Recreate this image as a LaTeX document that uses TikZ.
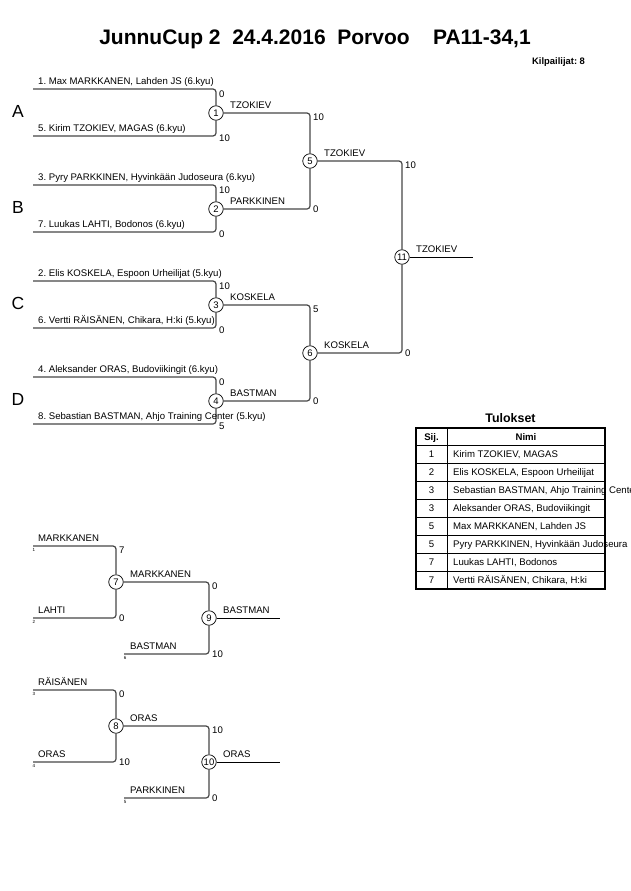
\documentclass[tikz,border=0pt]{standalone}
\usepackage{fontspec}
\setmainfont{Liberation Sans}
\frenchspacing
\begin{document}
\begin{tikzpicture}[x=1pt,y=-1pt,
 br/.style={draw=black!72, line width=1.2pt, rounded corners=3pt},
 fin/.style={draw=black, line width=0.9pt},
 mc/.style={circle, draw=black, line width=0.7pt, fill=white, minimum size=14.5pt, inner sep=0pt, font=\fontsize{9.5}{10}\selectfont},
 nm/.style={anchor=base west, inner sep=0pt, font=\fontsize{9.6}{11}\selectfont},
 pool/.style={inner sep=0pt, font=\fontsize{17.5}{18}\selectfont},
 tiny/.style={anchor=center, inner sep=0pt, font=\fontsize{4.5}{5}\selectfont},
 ttl/.style={anchor=base, inner sep=0pt, font=\fontsize{21}{22}\selectfont\bfseries},
 th/.style={anchor=base, inner sep=0pt, font=\fontsize{9.6}{11}\selectfont\bfseries},
 tc/.style={anchor=base, inner sep=0pt, font=\fontsize{9.6}{11}\selectfont},
 tbl/.style={draw=black, line width=0.8pt},
 tblo/.style={draw=black, line width=1.6pt}]
\useasboundingbox (0,0) rectangle (630,891);
\fill[white] (0,0) rectangle (630,891);
\clip (0,0) rectangle (630,891);

% title
\node[ttl] (title) at (315,44.3) {JunnuCup 2\ \ 24.4.2016\ \ Porvoo\ \ \ \ PA11-34,1};
\node[anchor=base west, inner sep=0pt, font=\fontsize{9.4}{10}\selectfont\bfseries] (kilp) at (532,64) {Kilpailijat: 8};

% pool letters
\node[pool] (pA) at (18,111) {A};
\node[pool] (pB) at (18,207) {B};
\node[pool] (pC) at (18,303) {C};
\node[pool] (pD) at (18,399) {D};

% match circles
\node[mc] (m1) at (216,113) {1};
\node[mc] (m2) at (216,209) {2};
\node[mc] (m3) at (216,305) {3};
\node[mc] (m4) at (216,401) {4};
\node[mc] (m5) at (310,161) {5};
\node[mc] (m6) at (310,353) {6};
\node[mc] (m11) at (402,257) {11};
\node[mc] (m7) at (116,582) {7};
\node[mc] (m9) at (209,618) {9};
\node[mc] (m8) at (116,726) {8};
\node[mc] (m10) at (209,762) {10};

% line starts
\coordinate (s1) at (33,89);
\coordinate (s5) at (33,136);
\coordinate (s3) at (33,185);
\coordinate (s7) at (33,232);
\coordinate (s2) at (33,281);
\coordinate (s6) at (33,328);
\coordinate (s4) at (33,377);
\coordinate (s8) at (33,424);
\coordinate (e11) at (473,257);
\coordinate (r1) at (33,546);
\coordinate (r2) at (33,618);
\coordinate (r6) at (124,654);
\coordinate (e9) at (280,618);
\coordinate (r3) at (33,690);
\coordinate (r4) at (33,762);
\coordinate (r5) at (124,798);
\coordinate (e10) at (280,762);

% bracket lines
\draw[br] (s1) -| (m1);
\draw[br] (s5) -| (m1);
\draw[br] (s3) -| (m2);
\draw[br] (s7) -| (m2);
\draw[br] (s2) -| (m3);
\draw[br] (s6) -| (m3);
\draw[br] (s4) -| (m4);
\draw[br] (s8) -| (m4);
\draw[br] (m1) -| (m5);
\draw[br] (m2) -| (m5);
\draw[br] (m3) -| (m6);
\draw[br] (m4) -| (m6);
\draw[br] (m5) -| (m11);
\draw[br] (m6) -| (m11);
\draw[fin] (m11) -- (e11);
\draw[br] (r1) -| (m7);
\draw[br] (r2) -| (m7);
\draw[br] (m7) -| (m9);
\draw[br] (r6) -| (m9);
\draw[fin] (m9) -- (e9);
\draw[br] (r3) -| (m8);
\draw[br] (r4) -| (m8);
\draw[br] (m8) -| (m10);
\draw[br] (r5) -| (m10);
\draw[fin] (m10) -- (e10);

% player names
\node[nm] (n1) at (38,84.4) {1. Max MARKKANEN, Lahden JS (6.kyu)};
\node[nm] (n5) at (38,131.4) {5. Kirim TZOKIEV, MAGAS (6.kyu)};
\node[nm] (n3) at (38,180.4) {3. Pyry PARKKINEN, Hyvinkään Judoseura (6.kyu)};
\node[nm] (n7) at (38,227.4) {7. Luukas LAHTI, Bodonos (6.kyu)};
\node[nm] (n2) at (38,276.4) {2. Elis KOSKELA, Espoon Urheilijat (5.kyu)};
\node[nm] (n6) at (38,323.4) {6. Vertti RÄISÄNEN, Chikara, H:ki (5.kyu)};
\node[nm] (n4) at (38,372.4) {4. Aleksander ORAS, Budoviikingit (6.kyu)};
\node[nm] (n8) at (38,419.4) {8. Sebastian BASTMAN, Ahjo Training Center (5.kyu)};

% first round scores
\node[nm] (c1a) at (219,97.4) {0};
\node[nm] (c1b) at (219,141.4) {10};
\node[nm] (c2a) at (219,193.4) {10};
\node[nm] (c2b) at (219,237.4) {0};
\node[nm] (c3a) at (219,289.4) {10};
\node[nm] (c3b) at (219,333.4) {0};
\node[nm] (c4a) at (219,385.4) {0};
\node[nm] (c4b) at (219,429.4) {5};
% second round scores
\node[nm] (c5a) at (313,120.4) {10};
\node[nm] (c5b) at (313,212.4) {0};
\node[nm] (c6a) at (313,312.4) {5};
\node[nm] (c6b) at (313,404.4) {0};
\node[nm] (c11a) at (405,168.4) {10};
\node[nm] (c11b) at (405,356.4) {0};

% winner labels
\node[nm] (w1) at (230,108) {TZOKIEV};
\node[nm] (w2) at (230,204) {PARKKINEN};
\node[nm] (w3) at (230,300) {KOSKELA};
\node[nm] (w4) at (230,396) {BASTMAN};
\node[nm] (w5) at (324,156) {TZOKIEV};
\node[nm] (w6) at (324,348) {KOSKELA};
\node[nm] (w11) at (416,252) {TZOKIEV};

% repechage 1
\node[nm] (rn1) at (38,541.4) {MARKKANEN};
\node[nm] (rn2) at (38,613.4) {LAHTI};
\node[nm] (rn6) at (130,649.4) {BASTMAN};
\node[tiny] (t1) at (34,549.5) {1};
\node[tiny] (t2) at (34,621.5) {2};
\node[tiny] (t6) at (125,657.5) {6};
\node[nm] (rc7a) at (119,553.4) {7};
\node[nm] (rc7b) at (119,621.4) {0};
\node[nm] (rc9a) at (212,589.4) {0};
\node[nm] (rc9b) at (212,657.4) {10};
\node[nm] (w7) at (130,577) {MARKKANEN};
\node[nm] (w9) at (223,613) {BASTMAN};

% repechage 2
\node[nm] (rn3) at (38,685.4) {RÄISÄNEN};
\node[nm] (rn4) at (38,757.4) {ORAS};
\node[nm] (rn5) at (130,793.4) {PARKKINEN};
\node[tiny] (t3) at (34,693.5) {3};
\node[tiny] (t4) at (34,765.5) {4};
\node[tiny] (t5) at (125,801.5) {5};
\node[nm] (rc8a) at (119,697.4) {0};
\node[nm] (rc8b) at (119,765.4) {10};
\node[nm] (rc10a) at (212,733.4) {10};
\node[nm] (rc10b) at (212,801.4) {0};
\node[nm] (w8) at (130,721) {ORAS};
\node[nm] (w10) at (223,757) {ORAS};

% results table
\node[anchor=base, inner sep=0pt, font=\fontsize{12.4}{13}\selectfont\bfseries] (tul) at (510.5,422.4) {Tulokset};
\foreach \yy in {445,463,481,499,517,535,553,571} \draw[tbl] (416,\yy) -- (605,\yy);
\draw[tbl] (447,428) -- (447,589);
\draw[tblo] (416,428) rectangle (605,589);
\node[th] (hs) at (431.5,440) {Sij.};
\node[th] (hn) at (526,440) {Nimi};
\foreach \i/\p/\nme in {0/1/{Kirim TZOKIEV, MAGAS},1/2/{Elis KOSKELA, Espoon Urheilijat},2/3/{Sebastian BASTMAN, Ahjo Training Center},3/3/{Aleksander ORAS, Budoviikingit},4/5/{Max MARKKANEN, Lahden JS},5/5/{Pyry PARKKINEN, Hyvinkään Judoseura},6/7/{Luukas LAHTI, Bodonos},7/7/{Vertti RÄISÄNEN, Chikara, H:ki}} {
  \node[tc] (tp\i) at (431.5,457.4+18*\i) {\p};
  \node[nm] (tn\i) at (453,457.4+18*\i) {\nme};
}
\end{tikzpicture}
\end{document}
